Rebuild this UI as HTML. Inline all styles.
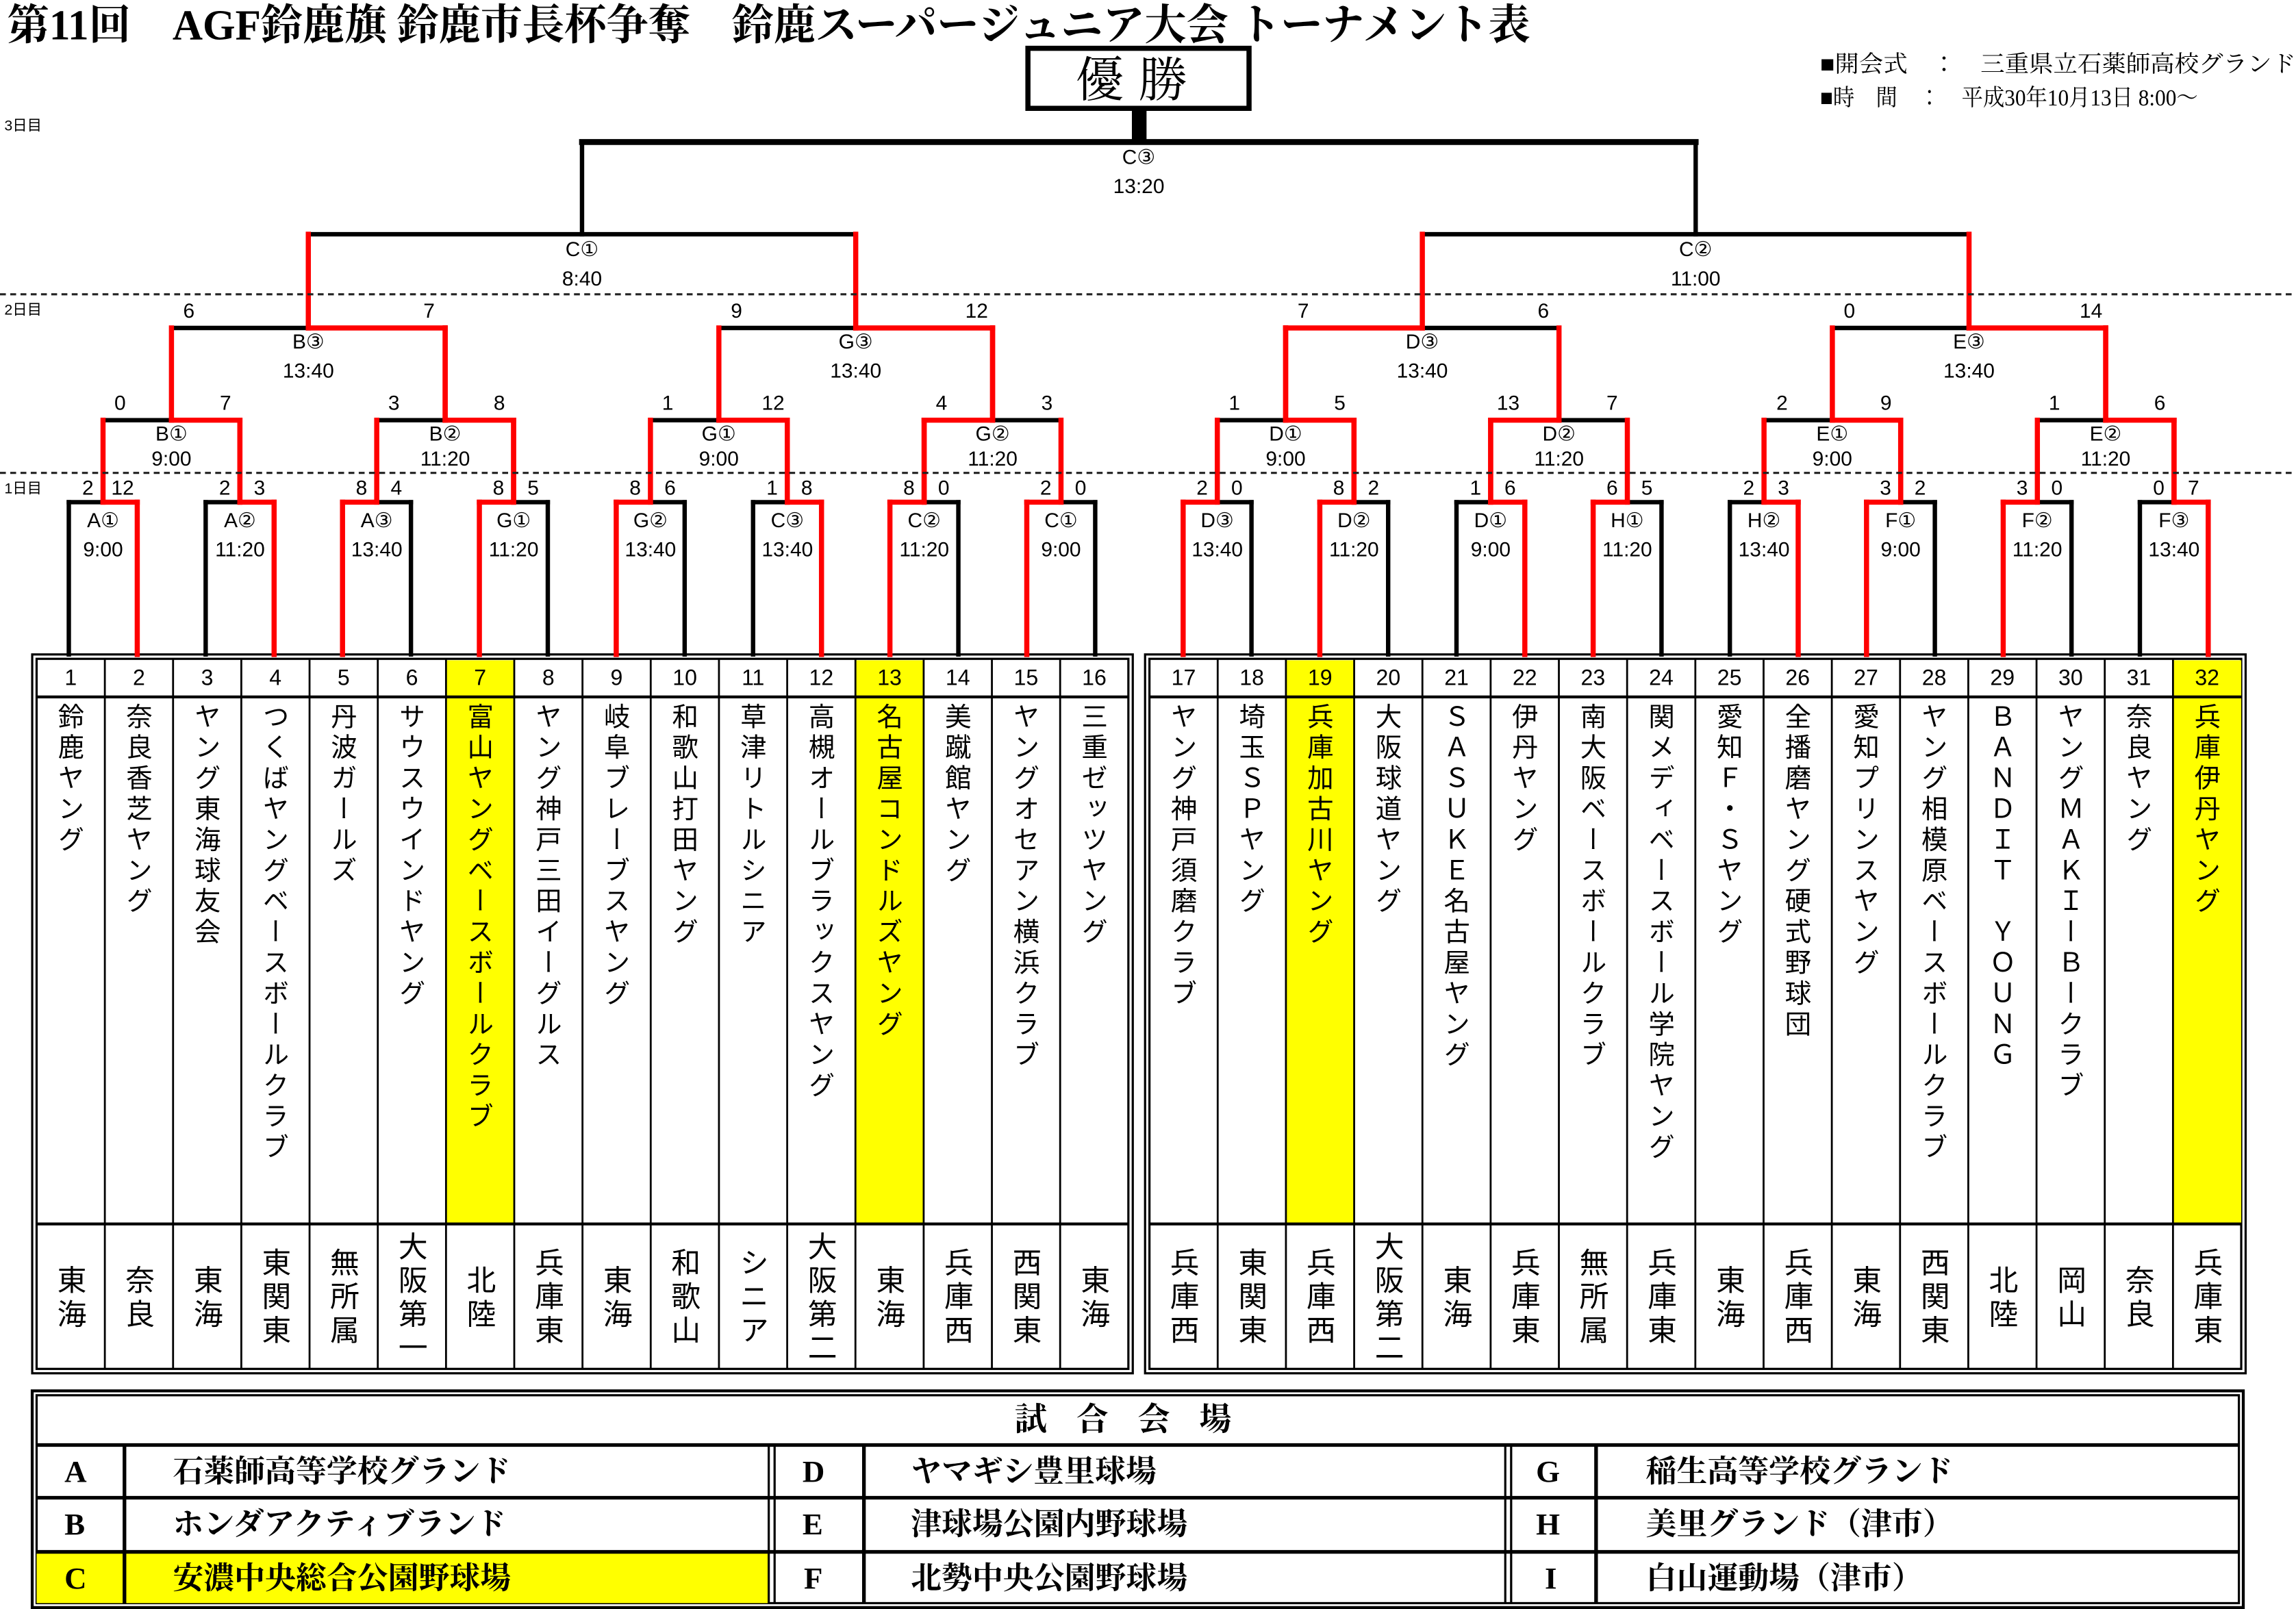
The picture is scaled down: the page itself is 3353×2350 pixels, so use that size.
<!DOCTYPE html>
<html><head><meta charset="utf-8">
<style>
html,body{margin:0;padding:0;background:#fff;}
body{width:3353px;height:2350px;overflow:hidden;position:relative;}
#wrap{position:absolute;left:0;top:0;width:1568px;height:1099px;transform:scale(2.13839,2.13831);transform-origin:0 0;}
#svg{position:absolute;left:0;top:0;}
.no{position:absolute;top:451px;height:25px;width:46.6px;text-align:center;font:15px/25px "Liberation Sans","DejaVu Sans",sans-serif;color:#000;}
.nm{position:absolute;top:480px;height:350px;width:46.6px;writing-mode:vertical-rl;text-orientation:upright;font:18px/46.6px "Noto Sans CJK JP","DejaVu Sans",sans-serif;letter-spacing:3px;color:#000;white-space:nowrap;}
.rg{position:absolute;top:838px;height:97px;width:46.6px;writing-mode:vertical-rl;text-orientation:upright;font:20px/46.6px "Noto Sans CJK JP",sans-serif;letter-spacing:3px;text-align:center;color:#000;}
.lg{position:absolute;font:bold 21px/36px "Liberation Serif","Noto Serif CJK JP",serif;color:#000;white-space:nowrap;}
</style></head>
<body><div id="wrap">
<svg id="svg" width="1568" height="1099" viewBox="0 0 1568 1099" xmlns="http://www.w3.org/2000/svg">
<g id="bg"></g>
<g id="g"></g>
<text x="5" y="27" font-family="'Liberation Serif','Noto Serif CJK JP',serif" font-weight="bold" font-size="29" textLength="1040" lengthAdjust="spacingAndGlyphs">第11回　AGF鈴鹿旗 鈴鹿市長杯争奪　鈴鹿スーパージュニア大会 トーナメント表</text>
<rect x="702" y="33" width="151" height="41" fill="#fff" stroke="#000" stroke-width="3.5"/>
<text x="777.5" y="66" text-anchor="middle" font-family="'Noto Serif CJK JP',serif" font-size="33" letter-spacing="10">優勝</text>
<rect x="773" y="74" width="10" height="24" fill="#000"/>
<g font-family="'Liberation Serif','Noto Serif CJK JP',serif" font-size="16">
<text x="1243" y="49" textLength="325" lengthAdjust="spacingAndGlyphs">■開会式　：　三重県立石薬師高校グランド</text>
<text x="1243" y="72" textLength="258" lengthAdjust="spacingAndGlyphs">■時　間　：　平成30年10月13日 8:00～</text>
</g>
<g font-family="'Liberation Sans','Noto Sans CJK JP',sans-serif" font-size="10">
<text x="3" y="89">3日目</text><text x="3" y="215">2日目</text><text x="3" y="337">1日目</text>
</g>
<g stroke="#222" stroke-width="1.5" stroke-dasharray="4 3">
<line x1="0" y1="201" x2="1568" y2="201"/><line x1="0" y1="323" x2="1568" y2="323"/>
</g>
<g font-family="'Liberation Sans','DejaVu Sans',sans-serif" font-size="14" text-anchor="middle">
<!-- R1 labels -->
<text x="70.4" y="360">A①</text><text x="70.4" y="380">9:00</text>
<text x="163.9" y="360">A②</text><text x="163.9" y="380">11:20</text>
<text x="257.3" y="360">A③</text><text x="257.3" y="380">13:40</text>
<text x="350.8" y="360">G①</text><text x="350.8" y="380">11:20</text>
<text x="444.2" y="360">G②</text><text x="444.2" y="380">13:40</text>
<text x="537.7" y="360">C③</text><text x="537.7" y="380">13:40</text>
<text x="631.2" y="360">C②</text><text x="631.2" y="380">11:20</text>
<text x="724.6" y="360">C①</text><text x="724.6" y="380">9:00</text>
<text x="831.3" y="360">D③</text><text x="831.3" y="380">13:40</text>
<text x="924.7" y="360">D②</text><text x="924.7" y="380">11:20</text>
<text x="1018" y="360">D①</text><text x="1018" y="380">9:00</text>
<text x="1111.3" y="360">H①</text><text x="1111.3" y="380">11:20</text>
<text x="1204.7" y="360">H②</text><text x="1204.7" y="380">13:40</text>
<text x="1298" y="360">F①</text><text x="1298" y="380">9:00</text>
<text x="1391.3" y="360">F②</text><text x="1391.3" y="380">11:20</text>
<text x="1484.7" y="360">F③</text><text x="1484.7" y="380">13:40</text>
<!-- R1 scores -->
<text x="60" y="338">2</text><text x="83.7" y="338">12</text>
<text x="153.5" y="338">2</text><text x="177.2" y="338">3</text>
<text x="246.9" y="338">8</text><text x="270.7" y="338">4</text>
<text x="340.4" y="338">8</text><text x="364.1" y="338">5</text>
<text x="433.8" y="338">8</text><text x="457.6" y="338">6</text>
<text x="527.3" y="338">1</text><text x="551" y="338">8</text>
<text x="620.8" y="338">8</text><text x="644.5" y="338">0</text>
<text x="714.2" y="338">2</text><text x="738" y="338">0</text>
<text x="821" y="338">2</text><text x="844.7" y="338">0</text>
<text x="914.3" y="338">8</text><text x="938" y="338">2</text>
<text x="1007.7" y="338">1</text><text x="1031.3" y="338">6</text>
<text x="1101" y="338">6</text><text x="1124.7" y="338">5</text>
<text x="1194.3" y="338">2</text><text x="1218" y="338">3</text>
<text x="1287.7" y="338">3</text><text x="1311.3" y="338">2</text>
<text x="1381" y="338">3</text><text x="1404.7" y="338">0</text>
<text x="1474.3" y="338">0</text><text x="1498" y="338">7</text>
<!-- R2 -->
<text x="117.1" y="301">B①</text><text x="117.1" y="318">9:00</text>
<text x="304" y="301">B②</text><text x="304" y="318">11:20</text>
<text x="490.9" y="301">G①</text><text x="490.9" y="318">9:00</text>
<text x="677.9" y="301">G②</text><text x="677.9" y="318">11:20</text>
<text x="878" y="301">D①</text><text x="878" y="318">9:00</text>
<text x="1064.7" y="301">D②</text><text x="1064.7" y="318">11:20</text>
<text x="1251.3" y="301">E①</text><text x="1251.3" y="318">9:00</text>
<text x="1438" y="301">E②</text><text x="1438" y="318">11:20</text>
<text x="82" y="280">0</text><text x="154" y="280">7</text>
<text x="269" y="280">3</text><text x="341" y="280">8</text>
<text x="456" y="280">1</text><text x="528" y="280">12</text>
<text x="643" y="280">4</text><text x="715" y="280">3</text>
<text x="843" y="280">1</text><text x="915" y="280">5</text>
<text x="1030" y="280">13</text><text x="1101" y="280">7</text>
<text x="1217" y="280">2</text><text x="1288" y="280">9</text>
<text x="1403" y="280">1</text><text x="1475" y="280">6</text>
<!-- R3 -->
<text x="210.6" y="238">B③</text><text x="210.6" y="258">13:40</text>
<text x="584.4" y="238">G③</text><text x="584.4" y="258">13:40</text>
<text x="971.3" y="238">D③</text><text x="971.3" y="258">13:40</text>
<text x="1344.7" y="238">E③</text><text x="1344.7" y="258">13:40</text>
<text x="129" y="217">6</text><text x="293" y="217">7</text>
<text x="503" y="217">9</text><text x="667" y="217">12</text>
<text x="890" y="217">7</text><text x="1054" y="217">6</text>
<text x="1263" y="217">0</text><text x="1428" y="217">14</text>
<!-- semis / final -->
<text x="397.5" y="175">C①</text><text x="397.5" y="195">8:40</text>
<text x="1158" y="175">C②</text><text x="1158" y="195">11:00</text>
<text x="777.7" y="112">C③</text><text x="777.7" y="132">13:20</text>
</g>
<text x="777" y="977" text-anchor="middle" font-family="'Liberation Serif','Noto Serif CJK JP',serif" font-weight="bold" font-size="22" letter-spacing="20">試合会場</text>
</svg>

<div class="no" style="left:25px">1</div><div class="no" style="left:71.6px">2</div><div class="no" style="left:118.2px">3</div><div class="no" style="left:164.8px">4</div><div class="no" style="left:211.4px">5</div><div class="no" style="left:258px">6</div><div class="no" style="left:304.6px">7</div><div class="no" style="left:351.2px">8</div><div class="no" style="left:397.8px">9</div><div class="no" style="left:444.4px">10</div><div class="no" style="left:491px">11</div><div class="no" style="left:537.6px">12</div><div class="no" style="left:584.2px">13</div><div class="no" style="left:630.8px">14</div><div class="no" style="left:677.4px">15</div><div class="no" style="left:724px">16</div>
<div class="no" style="left:785px">17</div><div class="no" style="left:831.6px">18</div><div class="no" style="left:878.2px">19</div><div class="no" style="left:924.8px">20</div><div class="no" style="left:971.4px">21</div><div class="no" style="left:1018px">22</div><div class="no" style="left:1064.6px">23</div><div class="no" style="left:1111.2px">24</div><div class="no" style="left:1157.8px">25</div><div class="no" style="left:1204.4px">26</div><div class="no" style="left:1251px">27</div><div class="no" style="left:1297.6px">28</div><div class="no" style="left:1344.2px">29</div><div class="no" style="left:1390.8px">30</div><div class="no" style="left:1437.4px">31</div><div class="no" style="left:1484px">32</div>

<div class="nm" style="left:25px">鈴鹿ヤング</div>
<div class="nm" style="left:71.6px">奈良香芝ヤング</div>
<div class="nm" style="left:118.2px">ヤング東海球友会</div>
<div class="nm" style="left:164.8px">つくばヤングベースボールクラブ</div>
<div class="nm" style="left:211.4px">丹波ガールズ</div>
<div class="nm" style="left:258px">サウスウインドヤング</div>
<div class="nm" style="left:304.6px">富山ヤングベースボールクラブ</div>
<div class="nm" style="left:351.2px">ヤング神戸三田イーグルス</div>
<div class="nm" style="left:397.8px">岐阜ブレーブスヤング</div>
<div class="nm" style="left:444.4px">和歌山打田ヤング</div>
<div class="nm" style="left:491px">草津リトルシニア</div>
<div class="nm" style="left:537.6px">高槻オールブラックスヤング</div>
<div class="nm" style="left:584.2px">名古屋コンドルズヤング</div>
<div class="nm" style="left:630.8px">美蹴館ヤング</div>
<div class="nm" style="left:677.4px">ヤングオセアン横浜クラブ</div>
<div class="nm" style="left:724px">三重ゼッツヤング</div>
<div class="nm" style="left:785px">ヤング神戸須磨クラブ</div>
<div class="nm" style="left:831.6px">埼玉ＳＰヤング</div>
<div class="nm" style="left:878.2px">兵庫加古川ヤング</div>
<div class="nm" style="left:924.8px">大阪球道ヤング</div>
<div class="nm" style="left:971.4px">ＳＡＳＵＫＥ名古屋ヤング</div>
<div class="nm" style="left:1018px">伊丹ヤング</div>
<div class="nm" style="left:1064.6px">南大阪ベースボールクラブ</div>
<div class="nm" style="left:1111.2px">関メディベースボール学院ヤング</div>
<div class="nm" style="left:1157.8px">愛知Ｆ・Ｓヤング</div>
<div class="nm" style="left:1204.4px">全播磨ヤング硬式野球団</div>
<div class="nm" style="left:1251px">愛知プリンスヤング</div>
<div class="nm" style="left:1297.6px">ヤング相模原ベースボールクラブ</div>
<div class="nm" style="left:1344.2px">ＢＡＮＤＩＴ　ＹＯＵＮＧ</div>
<div class="nm" style="left:1390.8px">ヤングＭＡＫＩーＢークラブ</div>
<div class="nm" style="left:1437.4px">奈良ヤング</div>
<div class="nm" style="left:1484px">兵庫伊丹ヤング</div>

<div class="rg" style="left:25px">東海</div><div class="rg" style="left:71.6px">奈良</div><div class="rg" style="left:118.2px">東海</div><div class="rg" style="left:164.8px">東関東</div><div class="rg" style="left:211.4px">無所属</div><div class="rg" style="left:258px">大阪第一</div><div class="rg" style="left:304.6px">北陸</div><div class="rg" style="left:351.2px">兵庫東</div><div class="rg" style="left:397.8px">東海</div><div class="rg" style="left:444.4px">和歌山</div><div class="rg" style="left:491px">シニア</div><div class="rg" style="left:537.6px">大阪第二</div><div class="rg" style="left:584.2px">東海</div><div class="rg" style="left:630.8px">兵庫西</div><div class="rg" style="left:677.4px">西関東</div><div class="rg" style="left:724px">東海</div>
<div class="rg" style="left:785px">兵庫西</div><div class="rg" style="left:831.6px">東関東</div><div class="rg" style="left:878.2px">兵庫西</div><div class="rg" style="left:924.8px">大阪第二</div><div class="rg" style="left:971.4px">東海</div><div class="rg" style="left:1018px">兵庫東</div><div class="rg" style="left:1064.6px">無所属</div><div class="rg" style="left:1111.2px">兵庫東</div><div class="rg" style="left:1157.8px">東海</div><div class="rg" style="left:1204.4px">兵庫西</div><div class="rg" style="left:1251px">東海</div><div class="rg" style="left:1297.6px">西関東</div><div class="rg" style="left:1344.2px">北陸</div><div class="rg" style="left:1390.8px">岡山</div><div class="rg" style="left:1437.4px">奈良</div><div class="rg" style="left:1484px">兵庫東</div>

<div class="lg" style="left:44px;top:987px">A</div><div class="lg" style="left:118px;top:987px">石薬師高等学校グランド</div>
<div class="lg" style="left:44px;top:1023px">B</div><div class="lg" style="left:118px;top:1023px">ホンダアクティブランド</div>
<div class="lg" style="left:44px;top:1060px">C</div><div class="lg" style="left:118px;top:1060px">安濃中央総合公園野球場</div>
<div class="lg" style="left:548px;top:987px">D</div><div class="lg" style="left:622px;top:987px">ヤマギシ豊里球場</div>
<div class="lg" style="left:548px;top:1023px">E</div><div class="lg" style="left:622px;top:1023px">津球場公園内野球場</div>
<div class="lg" style="left:549px;top:1060px">F</div><div class="lg" style="left:622px;top:1060px">北勢中央公園野球場</div>
<div class="lg" style="left:1049px;top:987px">G</div><div class="lg" style="left:1124px;top:987px">稲生高等学校グランド</div>
<div class="lg" style="left:1049px;top:1023px">H</div><div class="lg" style="left:1124px;top:1023px">美里グランド（津市）</div>
<div class="lg" style="left:1055px;top:1060px">I</div><div class="lg" style="left:1124px;top:1060px">白山運動場（津市）</div>
</div>
<script>
(function(){
var NS="http://www.w3.org/2000/svg";
var G=document.getElementById('g'),BG=document.getElementById('bg');
function ln(p,x1,y1,x2,y2,c,w,cap){var e=document.createElementNS(NS,'line');e.setAttribute('x1',x1);e.setAttribute('y1',y1);e.setAttribute('x2',x2);e.setAttribute('y2',y2);e.setAttribute('stroke',c);e.setAttribute('stroke-width',w);e.setAttribute('stroke-linecap',cap||'square');p.appendChild(e);}
function rc(p,x,y,w,h,f,s,sw){var e=document.createElementNS(NS,'rect');e.setAttribute('x',x);e.setAttribute('y',y);e.setAttribute('width',w);e.setAttribute('height',h);e.setAttribute('fill',f);if(s){e.setAttribute('stroke',s);e.setAttribute('stroke-width',sw);}p.appendChild(e);}
function c(i){return i<=16?47+(i-1)*46.73:808+(i-17)*46.67;}
// tables
var cw=46.6;
[25,785].forEach(function(x0){
  rc(BG,x0-3,447,cw*16+6,491,'none','#000',1.5);
  rc(BG,x0,450,cw*16,485,'#fff','#000',1.5);
});
[[7,25],[13,25],[19,785],[32,785]].forEach(function(a){var i=a[0],x0=a[1];var k=i<=16?i-1:i-17;rc(BG,x0+k*cw,451,cw,385,'#ffff00');});
[25,785].forEach(function(x0){
  for(var k=1;k<16;k++)ln(BG,x0+k*cw,450,x0+k*cw,935,'#000',1.3,'butt');
  ln(BG,x0,476,x0+16*cw,476,'#000',2,'butt');
  ln(BG,x0,836,x0+16*cw,836,'#000',2,'butt');
});
// legend
rc(BG,22,950,1510,148,'none','#000',2);
rc(BG,25,953,1504,142,'#fff','#000',1.5);
rc(BG,25,1060,500,35,'#ffff00');
ln(BG,25,987,1529,987,'#000',2.5,'butt');
ln(BG,25,1023,1529,1023,'#000',2.5,'butt');
ln(BG,25,1060,1529,1060,'#000',2.5,'butt');
[525,529,1028,1032].forEach(function(x){ln(BG,x,987,x,1095,'#000',1.5,'butt');});
[85,590,1090].forEach(function(x){ln(BG,x,987,x,1095,'#000',2.5,'butt');});
// bracket
var xs=[];for(var i=1;i<=32;i++)xs.push(c(i));
var Y=[343,287,224,160,97],bot=447,reds=[];
var W=[[1,1,0,0,0,1,0,0,0,0,1,0,1,0,0,1],[1,1,1,0,1,0,1,1],[1,1,0,1],[-1,-1],[-1]];
for(var k=0;k<5;k++){
  var nx=[],y=Y[k];
  for(var j=0;j<xs.length/2;j++){
    var Lx=xs[2*j],Rx=xs[2*j+1],m=(Lx+Rx)/2;
    ln(G,Lx,bot,Lx,y,'#000',3);ln(G,Rx,bot,Rx,y,'#000',3);
    ln(G,Lx,y,Rx,y,'#000',k==4?4:3);
    var w=W[k][j];
    if(w>=0){var wx=w?Rx:Lx;reds.push([wx,bot,wx,y],[wx,y,m,y],[m,y,m,Y[k+1]]);}
    nx.push(m);
  }
  xs=nx;bot=y;
}
reds.forEach(function(r){ln(G,r[0],r[1],r[2],r[3],'#ff0000',3.5);});
})();
</script>
</body></html>
